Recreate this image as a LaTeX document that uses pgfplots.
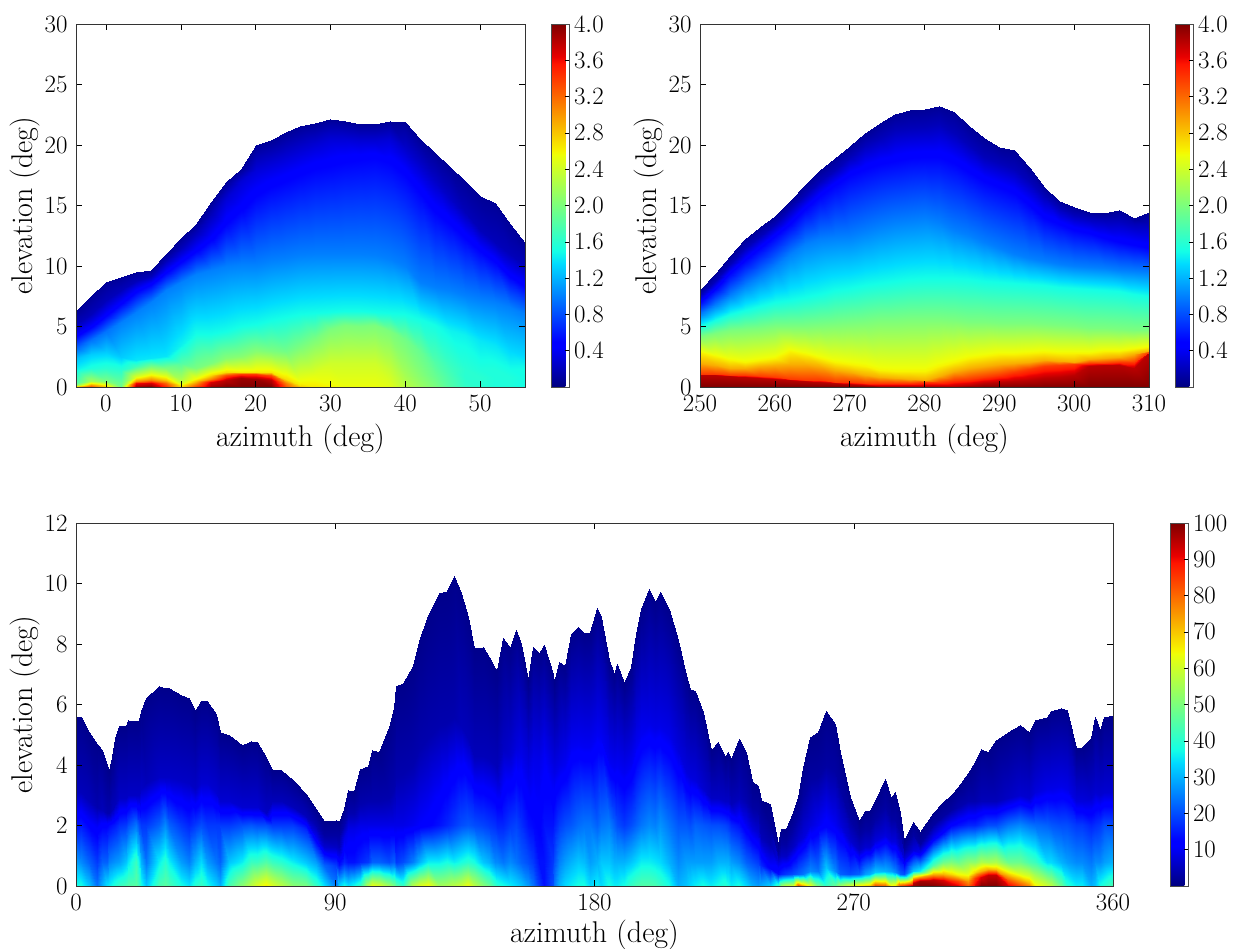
\documentclass[border=0pt]{standalone}
\usepackage{pgfplots}
\pgfplotsset{compat=1.18}
\pgfplotsset{colormap={mpljet}{rgb(0pt)=(0,0,.5); rgb(110pt)=(0,0,1); rgb(125pt)=(0,0,1); rgb(340pt)=(0,.86,1); rgb(375pt)=(.08,1,.9); rgb(640pt)=(.935,1,.03); rgb(650pt)=(.968,.96,0); rgb(890pt)=(1,.08,0); rgb(910pt)=(.91,0,0); rgb(1000pt)=(.5,0,0)},
 mystyle/.style={scale only axis, axis on top, colormap name=mpljet, tick align=inside, major tick length=6pt, tick style={black,line width=.5pt}, axis line style={line width=.7pt,black!80}, xtick pos=both, ytick pos=both,
 tick label style={font=\fontsize{25}{28}\selectfont}, xticklabel style={yshift=-5pt}, yticklabel style={xshift=-5pt}, label style={font=\fontsize{30}{34}\selectfont}, xlabel={azimuth (deg)}, ylabel={elevation (deg)}, xlabel style={yshift=-6pt}, ylabel style={yshift=-2pt}},
 mycb/.style={colorbar, colorbar style={scale only axis, width=18.5pt, height=363pt, at={(#1,1)}, anchor=north west, tick align=inside, major tick length=5pt, yticklabel pos=right, tick label style={font=\fontsize{25}{28}\selectfont}, ytick pos=right, xticklabel style={yshift=0pt}, yticklabel style={xshift=1pt}, ylabel={}, xlabel={}, axis line style={line width=.7pt,black!70}}}}
\begin{document}
\begin{tikzpicture}
\useasboundingbox (0,0) rectangle (1233pt,949pt);
\begin{axis}[mystyle, at={(76pt,562pt)}, anchor=south west, width=449pt, height=363pt, xmin=-4, xmax=56, ymin=0, ymax=30, xtick={0,10,...,50}, ytick={0,5,...,30}, point meta min=0, point meta max=4, mycb=1.058, colorbar style={ytick={.4,.8,...,4.0}, yticklabel style={/pgf/number format/fixed, /pgf/number format/fixed zerofill, /pgf/number format/precision=1}}]
\addplot[surf, shader=interp, mesh/ordering=y varies, mesh/rows=8, point meta=explicit] table[row sep=\\, x index=0, y index=1, meta index=2] {
-4 0 3.0\\ -4 .3 1.8\\ -4 1.5 1.45\\ -4 2.4 1.25\\ -4 3.2 .9\\ -4 4.3 .45\\ -4 5.2 .2\\ -4 6.3 .08\\
-2 0 3.2\\ -2 .5 2.2\\ -2 1.6 1.55\\ -2 2.7 1.3\\ -2 3.9 .95\\ -2 5 .45\\ -2 6 .2\\ -2 7.5 .08\\
0 0 2.6\\ 0 .5 2.0\\ 0 1.6 1.6\\ 0 2.9 1.3\\ 0 4.6 .95\\ 0 6 .45\\ 0 7.2 .2\\ 0 8.7 .08\\
2 0 1.9\\ 2 .3 1.9\\ 2 1.4 1.6\\ 2 2.5 1.3\\ 2 5.4 1\\ 2 7 .45\\ 2 8 .2\\ 2 9.1 .08\\
4 0 3.3\\ 4 .8 2.5\\ 4 1.7 1.7\\ 4 2.2 1.4\\ 4 6.2 1\\ 4 8 .45\\ 4 8.8 .2\\ 4 9.5 .08\\
6 0 3.6\\ 6 1 2.6\\ 6 1.8 1.9\\ 6 2.4 1.4\\ 6 7 1\\ 6 8.6 .45\\ 6 9.2 .2\\ 6 9.7 .08\\
8 0 3.2\\ 8 .9 2.5\\ 8 1.6 2\\ 8 2.6 1.4\\ 8 8 1\\ 8 9.6 .45\\ 8 10.4 .2\\ 8 11 .08\\
10 0 2.6\\ 10 .5 2.3\\ 10 2 1.8\\ 10 3.5 1.45\\ 10 8.7 1\\ 10 10.5 .45\\ 10 11.5 .2\\ 10 12.3 .08\\
12 0 3\\ 12 .7 2.6\\ 12 1.6 2\\ 12 4.4 1.5\\ 12 9.3 1\\ 12 11.4 .45\\ 12 12.7 .2\\ 12 13.5 .08\\
14 0 3.6\\ 14 1 2.7\\ 14 2 2\\ 14 4.4 1.5\\ 14 9.7 1\\ 14 12.4 .45\\ 14 14.3 .2\\ 14 15.3 .08\\
16 0 3.9\\ 16 1.2 2.7\\ 16 2.4 2.05\\ 16 4.6 1.5\\ 16 10 1\\ 16 13.5 .5\\ 16 15.5 .3\\ 16 16.9 .08\\
18 0 4\\ 18 1.25 2.65\\ 18 2.6 2.05\\ 18 5 1.5\\ 18 10.2 1\\ 18 15 .45\\ 18 17 .3\\ 18 18 .08\\
20 0 4\\ 20 1.25 2.65\\ 20 3 2.05\\ 20 5.2 1.5\\ 20 10.2 1\\ 20 15.8 .5\\ 20 18 .3\\ 20 20 .08\\
22 0 3.9\\ 22 1.2 2.65\\ 22 3 2\\ 22 5.5 1.5\\ 22 10.5 1\\ 22 16.5 .5\\ 22 18.5 .3\\ 22 20.4 .08\\
24 0 3.2\\ 24 .7 2.7\\ 24 3 1.95\\ 24 5.8 1.5\\ 24 10.7 1\\ 24 17 .5\\ 24 19 .3\\ 24 21.1 .08\\
26 0 2.8\\ 26 .3 2.6\\ 26 3.3 2\\ 26 6 1.5\\ 26 10.9 1\\ 26 17.5 .5\\ 26 19.5 .3\\ 26 21.6 .08\\
28 0 2.65\\ 28 1 2.5\\ 28 4 2\\ 28 6.1 1.5\\ 28 11 1\\ 28 18 .5\\ 28 20 .3\\ 28 21.8 .08\\
30 0 2.6\\ 30 2 2.4\\ 30 4.8 2\\ 30 6.2 1.5\\ 30 11 1\\ 30 18.3 .5\\ 30 20.5 .3\\ 30 22.15 .08\\
32 0 2.55\\ 32 2 2.4\\ 32 5.1 2\\ 32 6.3 1.5\\ 32 11 1\\ 32 18.6 .5\\ 32 20.5 .3\\ 32 22 .08\\
34 0 2.55\\ 34 2 2.4\\ 34 5 2\\ 34 6.3 1.5\\ 34 11 1\\ 34 18.8 .5\\ 34 20.3 .3\\ 34 21.7 .08\\
36 0 2.55\\ 36 2 2.4\\ 36 5.1 2\\ 36 6.2 1.5\\ 36 10.9 1\\ 36 18.9 .5\\ 36 20.3 .3\\ 36 21.75 .08\\
38 0 2.5\\ 38 1.5 2.35\\ 38 4.6 2\\ 38 6.1 1.5\\ 38 10.6 1\\ 38 18.5 .5\\ 38 20.5 .3\\ 38 22 .08\\
40 0 2.3\\ 40 1 2.2\\ 40 4 1.95\\ 40 6 1.5\\ 40 10 1\\ 40 17.5 .5\\ 40 19.8 .25\\ 40 21.9 .08\\
42 0 2.15\\ 42 1 2.05\\ 42 3 1.9\\ 42 5.6 1.5\\ 42 8.7 1\\ 42 16 .5\\ 42 18.5 .25\\ 42 20.5 .08\\
44 0 2\\ 44 1 1.9\\ 44 2 1.8\\ 44 5.1 1.5\\ 44 8.3 1\\ 44 14.5 .5\\ 44 17 .25\\ 44 19.3 .08\\
46 0 1.8\\ 46 .8 1.75\\ 46 1.5 1.7\\ 46 4.7 1.45\\ 46 8 1\\ 46 13.5 .5\\ 46 15.5 .25\\ 46 18.2 .08\\
48 0 1.65\\ 48 .8 1.6\\ 48 1.5 1.6\\ 48 4.3 1.45\\ 48 7.6 1\\ 48 12.3 .5\\ 48 14.5 .2\\ 48 17 .08\\
50 0 1.6\\ 50 .8 1.6\\ 50 1.5 1.55\\ 50 3.9 1.4\\ 50 7.3 1\\ 50 11.2 .5\\ 50 13 .2\\ 50 15.8 .08\\
52 0 1.55\\ 52 .8 1.55\\ 52 1.5 1.55\\ 52 3.5 1.4\\ 52 7 1\\ 52 10.3 .5\\ 52 12 .2\\ 52 15.2 .08\\
54 0 1.55\\ 54 .8 1.55\\ 54 1.5 1.5\\ 54 3 1.35\\ 54 6.6 1\\ 54 9.3 .45\\ 54 11 .2\\ 54 13.5 .08\\
56 0 1.5\\ 56 .8 1.5\\ 56 1.5 1.5\\ 56 2.6 1.35\\ 56 6 1\\ 56 8.5 .45\\ 56 10 .2\\ 56 11.9 .08\\
};
\addplot[surf, shader=interp, mesh/ordering=y varies, mesh/rows=4, point meta=explicit] table[row sep=\\, x index=0, y index=1, meta index=2] {
-4 0 3\\ -4 .1 2.6\\ -4 .2 2.1\\ -4 .3 1.8\\
-2 0 3.4\\ -2 .2 3\\ -2 .35 2.6\\ -2 .5 2.2\\
0 0 2.8\\ 0 .2 2.6\\ 0 .35 2.3\\ 0 .5 2\\
2 0 1.9\\ 2 .1 1.9\\ 2 .2 1.9\\ 2 .3 1.9\\
4 0 3.9\\ 4 .3 3.6\\ 4 .5 3\\ 4 .8 2.5\\
6 0 4\\ 6 .3 3.7\\ 6 .6 3.1\\ 6 1 2.6\\
8 0 3.5\\ 8 .3 3.2\\ 8 .6 2.8\\ 8 .9 2.5\\
10 0 2.7\\ 10 .15 2.6\\ 10 .3 2.4\\ 10 .5 2.3\\
12 0 3.4\\ 12 .25 3.1\\ 12 .5 2.8\\ 12 .7 2.6\\
14 0 3.9\\ 14 .4 3.7\\ 14 .7 3.1\\ 14 1 2.7\\
16 0 4\\ 16 .6 3.8\\ 16 .95 3.3\\ 16 1.2 2.7\\
18 0 4\\ 18 .75 3.9\\ 18 1.05 3.4\\ 18 1.25 2.65\\
20 0 4\\ 20 .7 3.9\\ 20 1.05 3.4\\ 20 1.25 2.65\\
22 0 4\\ 22 .6 3.8\\ 22 .95 3.3\\ 22 1.2 2.65\\
24 0 3.3\\ 24 .3 3.1\\ 24 .5 2.9\\ 24 .7 2.7\\
26 0 2.8\\ 26 .1 2.75\\ 26 .2 2.65\\ 26 .3 2.6\\
};
\end{axis}
\begin{axis}[mystyle, at={(700pt,562pt)}, anchor=south west, width=449pt, height=363pt, xmin=250, xmax=310, ymin=0, ymax=30, xtick={250,260,...,310}, ytick={0,5,...,30}, point meta min=0, point meta max=4, mycb=1.058, colorbar style={ytick={.4,.8,...,4.0}, yticklabel style={/pgf/number format/fixed, /pgf/number format/fixed zerofill, /pgf/number format/precision=1}}]
\addplot[surf, shader=interp, mesh/ordering=y varies, mesh/rows=11, point meta=explicit] table[row sep=\\, x index=0, y index=1, meta index=2] {
250 0 4\\ 250 1 3.8\\ 250 1.1 3.4\\ 250 2 2.9\\ 250 2.9 2.6\\ 250 4.2 2\\ 250 5 1.5\\ 250 6 1\\ 250 7 .5\\ 250 7.6 .2\\ 250 8 .08\\
252 0 4\\ 252 .95 3.8\\ 252 1.05 3.4\\ 252 1.8 2.9\\ 252 2.6 2.6\\ 252 4.5 2\\ 252 5.5 1.5\\ 252 6.8 1\\ 252 8.1 .5\\ 252 8.8 .2\\ 252 9.3 .08\\
254 0 4\\ 254 .9 3.8\\ 254 1 3.4\\ 254 1.55 2.9\\ 254 2.2 2.6\\ 254 4.7 2\\ 254 6 1.5\\ 254 7.6 1\\ 254 9.4 .5\\ 254 10.2 .2\\ 254 10.8 .08\\
256 0 4\\ 256 .85 3.8\\ 256 .95 3.4\\ 256 1.55 2.9\\ 256 2.1 2.6\\ 256 4.8 2\\ 256 6.4 1.5\\ 256 8.4 1\\ 256 10.5 .5\\ 256 11.5 .2\\ 256 12.2 .08\\
258 0 4\\ 258 .75 3.8\\ 258 .9 3.4\\ 258 1.7 2.9\\ 258 2.2 2.6\\ 258 4.9 2\\ 258 6.7 1.5\\ 258 9.2 1\\ 258 11.5 .5\\ 258 12.5 .2\\ 258 13.2 .08\\
260 0 4\\ 260 .7 3.8\\ 260 .8 3.4\\ 260 1.8 2.9\\ 260 2.4 2.6\\ 260 5 2\\ 260 7 1.5\\ 260 10 1\\ 260 12.5 .5\\ 260 13.5 .2\\ 260 14.1 .08\\
262 0 4\\ 262 .6 3.8\\ 262 .7 3.4\\ 262 1.9 2.9\\ 262 3 2.6\\ 262 5 2\\ 262 7.2 1.5\\ 262 11 1\\ 262 13.5 .5\\ 262 14.7 .2\\ 262 15.4 .08\\
264 0 4\\ 264 .5 3.8\\ 264 .6 3.4\\ 264 1.9 2.9\\ 264 2.7 2.6\\ 264 5 2\\ 264 7.4 1.5\\ 264 11.8 1\\ 264 14.7 .5\\ 264 15.9 .2\\ 264 16.7 .08\\
266 0 4\\ 266 .4 3.8\\ 266 .55 3.4\\ 266 1.7 2.9\\ 266 2.4 2.6\\ 266 5.1 2\\ 266 7.7 1.5\\ 266 12.2 1\\ 266 15.8 .5\\ 266 17 .2\\ 266 17.9 .08\\
268 0 4\\ 268 .3 3.8\\ 268 .45 3.4\\ 268 1.4 2.9\\ 268 2.1 2.6\\ 268 5.2 2\\ 268 8 1.5\\ 268 12.4 1\\ 268 16.7 .5\\ 268 17.9 .2\\ 268 18.9 .08\\
270 0 4\\ 270 .25 3.8\\ 270 .4 3.4\\ 270 1.2 2.9\\ 270 1.9 2.6\\ 270 5.3 2\\ 270 8.2 1.5\\ 270 12.5 1\\ 270 17.5 .5\\ 270 19 .2\\ 270 19.9 .08\\
272 0 4\\ 272 .2 3.8\\ 272 .35 3.4\\ 272 1 2.9\\ 272 1.7 2.6\\ 272 5.4 2\\ 272 8.4 1.5\\ 272 12.9 1\\ 272 18 .5\\ 272 20 .2\\ 272 21 .08\\
274 0 4\\ 274 .12 3.8\\ 274 .35 3.4\\ 274 .85 2.9\\ 274 1.4 2.6\\ 274 5.5 2\\ 274 8.6 1.5\\ 274 13.3 1\\ 274 18.4 .5\\ 274 20.6 .2\\ 274 21.8 .08\\
276 0 4\\ 276 .1 3.8\\ 276 .35 3.4\\ 276 .75 2.9\\ 276 1.3 2.6\\ 276 5.5 2\\ 276 8.8 1.5\\ 276 13.6 1\\ 276 18.7 .5\\ 276 21.2 .2\\ 276 22.6 .08\\
278 0 4\\ 278 .08 3.8\\ 278 .35 3.4\\ 278 .65 2.9\\ 278 1.3 2.6\\ 278 5.6 2\\ 278 8.9 1.5\\ 278 13.8 1\\ 278 18.9 .5\\ 278 21.4 .2\\ 278 22.9 .08\\
280 0 4\\ 280 .08 3.8\\ 280 .4 3.4\\ 280 .6 2.9\\ 280 1.3 2.6\\ 280 5.6 2\\ 280 9 1.5\\ 280 14 1\\ 280 19 .5\\ 280 21.5 .2\\ 280 23 .08\\
282 0 4\\ 282 .08 3.8\\ 282 .45 3.4\\ 282 .9 2.9\\ 282 1.7 2.6\\ 282 5.6 2\\ 282 9 1.5\\ 282 13.6 1\\ 282 19 .5\\ 282 21.7 .2\\ 282 23.25 .08\\
284 0 4\\ 284 .08 3.8\\ 284 .55 3.4\\ 284 1.3 2.9\\ 284 2.1 2.6\\ 284 5.5 2\\ 284 9 1.5\\ 284 13 1\\ 284 18.5 .5\\ 284 21 .2\\ 284 22.7 .08\\
286 0 4\\ 286 .15 3.8\\ 286 .7 3.4\\ 286 1.6 2.9\\ 286 2.4 2.6\\ 286 5.4 2\\ 286 8.9 1.5\\ 286 12.6 1\\ 286 17.8 .5\\ 286 20 .2\\ 286 21.6 .08\\
288 0 4\\ 288 .3 3.8\\ 288 .85 3.4\\ 288 1.75 2.9\\ 288 2.55 2.6\\ 288 5.4 2\\ 288 8.8 1.5\\ 288 12 1\\ 288 17 .5\\ 288 19 .2\\ 288 20.6 .08\\
290 0 4\\ 290 .4 3.8\\ 290 1 3.4\\ 290 1.9 2.9\\ 290 2.7 2.6\\ 290 5.3 2\\ 290 8.7 1.5\\ 290 11.5 1\\ 290 16.5 .5\\ 290 18.5 .2\\ 290 19.8 .08\\
292 0 4\\ 292 .5 3.8\\ 292 1.25 3.4\\ 292 2 2.9\\ 292 2.75 2.6\\ 292 5.3 2\\ 292 8.6 1.5\\ 292 11 1\\ 292 16 .5\\ 292 18 .2\\ 292 19.6 .08\\
294 0 4\\ 294 .6 3.8\\ 294 1.5 3.4\\ 294 2.1 2.9\\ 294 2.85 2.6\\ 294 5.3 2\\ 294 8.5 1.5\\ 294 10.7 1\\ 294 15 .5\\ 294 17 .2\\ 294 18.2 .08\\
296 0 4\\ 296 .75 3.8\\ 296 1.75 3.4\\ 296 2.2 2.9\\ 296 2.9 2.6\\ 296 5.2 2\\ 296 8.4 1.5\\ 296 10.4 1\\ 296 14 .5\\ 296 15.8 .2\\ 296 16.5 .08\\
298 0 4\\ 298 .85 3.8\\ 298 1.85 3.4\\ 298 2.15 2.9\\ 298 2.85 2.6\\ 298 5.1 2\\ 298 8.3 1.5\\ 298 10.2 1\\ 298 13.5 .5\\ 298 14.8 .2\\ 298 15.4 .08\\
300 0 4\\ 300 1 3.8\\ 300 1.9 3.4\\ 300 2.1 2.9\\ 300 2.8 2.6\\ 300 5 2\\ 300 8.2 1.5\\ 300 10 1\\ 300 13 .5\\ 300 14.2 .2\\ 300 14.9 .08\\
302 0 4\\ 302 1.7 3.8\\ 302 1.95 3.4\\ 302 2.3 2.9\\ 302 2.85 2.6\\ 302 4.9 2\\ 302 8.1 1.5\\ 302 9.9 1\\ 302 12.7 .5\\ 302 14 .2\\ 302 14.5 .08\\
304 0 4\\ 304 1.8 3.8\\ 304 2 3.4\\ 304 2.4 2.9\\ 304 2.95 2.6\\ 304 4.9 2\\ 304 8 1.5\\ 304 9.8 1\\ 304 12.3 .5\\ 304 13.8 .2\\ 304 14.35 .08\\
306 0 4\\ 306 1.8 3.8\\ 306 2.05 3.4\\ 306 2.5 2.9\\ 306 3 2.6\\ 306 4.8 2\\ 306 7.9 1.5\\ 306 9.7 1\\ 306 12 .5\\ 306 13.8 .2\\ 306 14.65 .08\\
308 0 4\\ 308 1.6 3.8\\ 308 2.1 3.4\\ 308 2.7 2.9\\ 308 3.1 2.6\\ 308 4.75 2\\ 308 7.7 1.5\\ 308 9.6 1\\ 308 11.7 .5\\ 308 13.5 .2\\ 308 14 .08\\
310 0 4\\ 310 2.8 3.8\\ 310 2.9 3.4\\ 310 3 2.9\\ 310 3.3 2.6\\ 310 4.7 2\\ 310 7.5 1.5\\ 310 9.5 1\\ 310 11.5 .5\\ 310 13.5 .2\\ 310 14.5 .08\\
};
\end{axis}
\begin{axis}[mystyle, at={(76pt,63pt)}, anchor=south west, width=1037pt, height=363pt, xmin=0, xmax=360, ymin=0, ymax=12, xtick={0,90,...,360}, ytick={0,2,...,12}, point meta min=0, point meta max=100, xlabel style={yshift=3pt}, mycb=1.0550, colorbar style={ytick={10,20,...,100}}]
\addplot[surf, shader=interp, mesh/ordering=y varies, mesh/rows=5, point meta=explicit] table[row sep=\\, x index=0, y index=1, meta index=2] {
0 0 38\\ 0 .8 28\\ 0 2 14\\ 0 3.1 5\\ 0 5.6 1\\
1.6 0 38\\ 1.6 .8 26\\ 1.6 2 15\\ 1.6 3.1 5\\ 1.6 5.6 1\\
4.5 0 32\\ 4.5 .8 22\\ 4.5 2 12\\ 4.5 2.8 5\\ 4.5 5.1 1\\
7.4 0 24\\ 7.4 .8 18\\ 7.4 2 10\\ 7.4 2.6 4\\ 7.4 4.7 1\\
9.1 0 30\\ 9.1 .8 22\\ 9.1 2 12\\ 9.1 2.5 5\\ 9.1 4.5 1\\
10.7 0 35\\ 10.7 .8 22\\ 10.7 2 12\\ 10.7 2.4 4\\ 10.7 4 1\\
11.5 0 36\\ 11.5 .8 25\\ 11.5 2 13\\ 11.5 2.4 4\\ 11.5 3.8 1\\
12.4 0 38\\ 12.4 .8 26\\ 12.4 2 14\\ 12.4 2.5 5\\ 12.4 4.25 1\\
13.6 0 40\\ 13.6 .8 27\\ 13.6 2 15\\ 13.6 2.7 5\\ 13.6 4.9 1\\
14.9 0 42\\ 14.9 .8 28\\ 14.9 2 17\\ 14.9 2.9 6\\ 14.9 5.3 1\\
17.3 0 44\\ 17.3 .8 32\\ 17.3 2 18\\ 17.3 2.9 6\\ 17.3 5.3 1\\
18.2 0 45\\ 18.2 .8 35\\ 18.2 2 20\\ 18.2 3 6\\ 18.2 5.5 1\\
20.7 0 46\\ 20.7 .8 42\\ 20.7 2 24\\ 20.7 3 6\\ 20.7 5.47 1\\
21.7 0 42\\ 21.7 .8 36\\ 21.7 2 20\\ 21.7 3 6\\ 21.7 5.5 1\\
22.5 0 38\\ 22.5 .8 30\\ 22.5 2 18\\ 22.5 3.2 6\\ 22.5 5.8 1\\
24.4 0 32\\ 24.4 .8 24\\ 24.4 2 18\\ 24.4 3.4 5\\ 24.4 6.2 1\\
28.8 0 44\\ 28.8 .8 36\\ 28.8 2 22\\ 28.8 3.6 6\\ 28.8 6.6 1\\
31 0 46\\ 31 .8 40\\ 31 2 26\\ 31 3.6 6\\ 31 6.56 1\\
32.3 0 44\\ 32.3 .8 36\\ 32.3 2 22\\ 32.3 3.6 6\\ 32.3 6.55 1\\
36.4 0 38\\ 36.4 .8 28\\ 36.4 2 18\\ 36.4 3.5 6\\ 36.4 6.3 1\\
39.3 0 35\\ 39.3 .8 25\\ 39.3 2 16\\ 39.3 3.4 6\\ 39.3 6.2 1\\
41.3 0 40\\ 41.3 .8 30\\ 41.3 2 18\\ 41.3 3.2 6\\ 41.3 5.8 1\\
43.3 0 42\\ 43.3 .8 34\\ 43.3 2 20\\ 43.3 3.4 7\\ 43.3 6.1 1\\
45.6 0 38\\ 45.6 .8 28\\ 45.6 2 18\\ 45.6 3.4 7\\ 45.6 6.1 1\\
48.5 0 33\\ 48.5 .8 24\\ 48.5 2 18\\ 48.5 3.1 7\\ 48.5 5.7 1\\
49.9 0 30\\ 49.9 .8 22\\ 49.9 2 18\\ 49.9 2.8 7\\ 49.9 5.1 1\\
53.2 0 44\\ 53.2 .8 32\\ 53.2 2 18\\ 53.2 2.8 7\\ 53.2 5 1\\
57.8 0 52\\ 57.8 .8 36\\ 57.8 2 20\\ 57.8 2.6 7\\ 57.8 4.65 1\\
60.7 0 58\\ 60.7 .8 42\\ 60.7 2 21\\ 60.7 2.6 7\\ 60.7 4.8 1\\
63 0 62\\ 63 .8 42\\ 63 2 20\\ 63 2.6 7\\ 63 4.75 1\\
65.9 0 66\\ 65.9 .8 45\\ 65.9 2 20\\ 65.9 2.4 6\\ 65.9 4.25 1\\
67.9 0 62\\ 67.9 .8 42\\ 67.9 2 18\\ 67.9 2.8 5\\ 67.9 3.83 1\\
71.1 0 58\\ 71.1 .8 40\\ 71.1 2 18\\ 71.1 2.8 5\\ 71.1 3.83 1\\
75.2 0 52\\ 75.2 .8 36\\ 75.2 2 18\\ 75.2 2.6 5\\ 75.2 3.5 1\\
79.8 0 50\\ 79.8 .8 32\\ 79.8 1.9 16\\ 79.8 2.3 5\\ 79.8 3.05 1\\
83.3 0 42\\ 83.3 .8 28\\ 83.3 1.6 10\\ 83.3 2 4\\ 83.3 2.55 1\\
86.2 0 35\\ 86.2 .7 22\\ 86.2 1.3 7\\ 86.2 1.7 3\\ 86.2 2.15 1\\
90.2 0 25\\ 90.2 .7 18\\ 90.2 1.3 6\\ 90.2 1.7 3\\ 90.2 2.18 1\\
91.4 0 34\\ 91.4 .7 14\\ 91.4 1.3 5\\ 91.4 1.7 3\\ 91.4 2.1 1\\
93.1 0 38\\ 93.1 .8 16\\ 93.1 1.6 9\\ 93.1 2 4\\ 93.1 2.55 1\\
94.3 0 35\\ 94.3 .8 14\\ 94.3 1.9 9\\ 94.3 2.4 4\\ 94.3 3.17 1\\
96.6 0 38\\ 96.6 .8 14\\ 96.6 1.9 9\\ 96.6 2.4 4\\ 96.6 3.13 1\\
98.6 0 42\\ 98.6 .8 16\\ 98.6 2 9\\ 98.6 2.7 4\\ 98.6 3.87 1\\
101.2 0 58\\ 101.2 .8 18\\ 101.2 2 9\\ 101.2 2.8 4\\ 101.2 3.98 1\\
102.6 0 64\\ 102.6 .8 22\\ 102.6 2 9\\ 102.6 2.8 4\\ 102.6 4.48 1\\
105.1 0 62\\ 105.1 .8 22\\ 105.1 2 9\\ 105.1 2.8 4\\ 105.1 4.42 1\\
108.8 0 55\\ 108.8 .8 20\\ 108.8 2 9\\ 108.8 2.9 4\\ 108.8 5.25 1\\
110.5 0 50\\ 110.5 .8 22\\ 110.5 2 9\\ 110.5 3.2 4\\ 110.5 5.9 1\\
111.1 0 46\\ 111.1 .8 18\\ 111.1 2 9\\ 111.1 3.6 4\\ 111.1 6.6 1\\
113.4 0 42\\ 113.4 .8 20\\ 113.4 2 9\\ 113.4 3.7 4\\ 113.4 6.7 1\\
117.1 0 58\\ 117.1 .8 25\\ 117.1 2 10\\ 117.1 4 4\\ 117.1 7.26 1\\
119.2 0 62\\ 119.2 .8 30\\ 119.2 2 11\\ 119.2 4.5 4\\ 119.2 8.1 1\\
122.1 0 65\\ 122.1 .8 36\\ 122.1 2 12\\ 122.1 4.9 4\\ 122.1 8.95 1\\
126.1 0 55\\ 126.1 .8 36\\ 126.1 2 14\\ 126.1 5.3 4\\ 126.1 9.7 1\\
128.7 0 56\\ 128.7 .8 38\\ 128.7 2 16\\ 128.7 5.4 4\\ 128.7 9.76 1\\
131.2 0 58\\ 131.2 .8 36\\ 131.2 2 18\\ 131.2 5.6 4\\ 131.2 10.24 1\\
133.7 0 60\\ 133.7 .8 38\\ 133.7 2 20\\ 133.7 5.3 5\\ 133.7 9.67 1\\
136 0 64\\ 136 .8 40\\ 136 2 21\\ 136 4.9 5\\ 136 8.9 1\\
138.3 0 58\\ 138.3 .8 38\\ 138.3 2 20\\ 138.3 4.3 5\\ 138.3 7.88 1\\
141.2 0 52\\ 141.2 .8 32\\ 141.2 2 19\\ 141.2 4.3 5\\ 141.2 7.9 1\\
143.2 0 48\\ 143.2 .8 30\\ 143.2 2 18\\ 143.2 4.2 5\\ 143.2 7.57 1\\
145.3 0 42\\ 145.3 .8 26\\ 145.3 2 17\\ 145.3 4 5\\ 145.3 7.22 1\\
146.1 0 40\\ 146.1 .8 26\\ 146.1 2 16\\ 146.1 3.9 5\\ 146.1 7.15 1\\
148.2 0 38\\ 148.2 .8 24\\ 148.2 2 16\\ 148.2 4.5 6\\ 148.2 8.2 1\\
150.7 0 36\\ 150.7 .8 26\\ 150.7 2 18\\ 150.7 4.3 7\\ 150.7 7.88 1\\
152.8 0 34\\ 152.8 .8 24\\ 152.8 2 19\\ 152.8 4.6 8\\ 152.8 8.45 1\\
154.5 0 32\\ 154.5 .8 22\\ 154.5 2 17\\ 154.5 4.4 9\\ 154.5 8 1\\
156.8 0 28\\ 156.8 .8 20\\ 156.8 2 14\\ 156.8 3.7 9\\ 156.8 6.8 1\\
158.8 0 24\\ 158.8 .8 18\\ 158.8 2 13\\ 158.8 4.3 9\\ 158.8 7.9 1\\
160.9 0 18\\ 160.9 .8 14\\ 160.9 2 12\\ 160.9 4.2 9\\ 160.9 7.7 1\\
162.4 0 14\\ 162.4 .8 14\\ 162.4 2 14\\ 162.4 4.4 10\\ 162.4 7.96 1\\
165.5 0 20\\ 165.5 .8 18\\ 165.5 2 14\\ 165.5 3.8 9\\ 165.5 7 1\\
166.1 0 24\\ 166.1 .8 20\\ 166.1 2 15\\ 166.1 3.7 9\\ 166.1 6.7 1\\
167.8 0 30\\ 167.8 .8 25\\ 167.8 2 18\\ 167.8 4 9\\ 167.8 7.4 1\\
169.6 0 34\\ 169.6 .8 28\\ 169.6 2 20\\ 169.6 4 10\\ 169.6 7.26 1\\
171.9 0 36\\ 171.9 .8 30\\ 171.9 2 21\\ 171.9 4.6 10\\ 171.9 8.34 1\\
174.2 0 38\\ 174.2 .8 32\\ 174.2 2 23\\ 174.2 4.7 10\\ 174.2 8.56 1\\
176.5 0 38\\ 176.5 .8 31\\ 176.5 2 24\\ 176.5 4.6 10\\ 176.5 8.38 1\\
178.3 0 34\\ 178.3 .8 28\\ 178.3 2 24\\ 178.3 4.6 10\\ 178.3 8.4 1\\
180.8 0 36\\ 180.8 .8 30\\ 180.8 2 22\\ 180.8 5 10\\ 180.8 9.2 1\\
182.3 0 34\\ 182.3 .8 32\\ 182.3 2 24\\ 182.3 4.9 10\\ 182.3 8.9 1\\
185.2 0 38\\ 185.2 .8 32\\ 185.2 2 25\\ 185.2 4.1 10\\ 185.2 7.46 1\\
186.6 0 36\\ 186.6 .8 30\\ 186.6 2 22\\ 186.6 3.9 10\\ 186.6 7 1\\
187.8 0 36\\ 187.8 .8 30\\ 187.8 2 20\\ 187.8 4 10\\ 187.8 7.35 1\\
190.1 0 38\\ 190.1 .8 30\\ 190.1 2 18\\ 190.1 3.7 10\\ 190.1 6.71 1\\
192.8 0 42\\ 192.8 .8 32\\ 192.8 2 20\\ 192.8 4 10\\ 192.8 7.24 1\\
194.5 0 44\\ 194.5 .8 34\\ 194.5 2 22\\ 194.5 4.6 10\\ 194.5 8.34 1\\
196.2 0 45\\ 196.2 .8 36\\ 196.2 2 24\\ 196.2 5 10\\ 196.2 9.17 1\\
198.9 0 45\\ 198.9 .8 36\\ 198.9 2 26\\ 198.9 5.4 9\\ 198.9 9.83 1\\
200.9 0 44\\ 200.9 .8 35\\ 200.9 2 25\\ 200.9 5.2 9\\ 200.9 9.39 1\\
202.6 0 42\\ 202.6 .8 34\\ 202.6 2 27\\ 202.6 5.3 9\\ 202.6 9.72 1\\
205.7 0 38\\ 205.7 .8 30\\ 205.7 2 24\\ 205.7 5 9\\ 205.7 9.17 1\\
209 0 30\\ 209 .8 26\\ 209 2 21\\ 209 4.5 8\\ 209 8.12 1\\
211.6 0 32\\ 211.6 .8 28\\ 211.6 2 21\\ 211.6 3.8 8\\ 211.6 6.96 1\\
213 0 34\\ 213 .8 28\\ 213 2 20\\ 213 3.6 8\\ 213 6.52 1\\
214.8 0 36\\ 214.8 .8 28\\ 214.8 2 22\\ 214.8 3.5 8\\ 214.8 6.44 1\\
217.7 0 38\\ 217.7 .8 28\\ 217.7 2 21\\ 217.7 3.2 7\\ 217.7 5.75 1\\
220.6 0 36\\ 220.6 .8 28\\ 220.6 2 20\\ 220.6 2.9 6\\ 220.6 4.48 1\\
222.9 0 38\\ 222.9 .8 30\\ 222.9 2 20\\ 222.9 2.9 6\\ 222.9 4.75 1\\
225.2 0 40\\ 225.2 .8 30\\ 225.2 2 19\\ 225.2 2.8 6\\ 225.2 4.25 1\\
226.3 0 38\\ 226.3 .8 30\\ 226.3 2 18\\ 226.3 2.8 6\\ 226.3 4.42 1\\
227.5 0 36\\ 227.5 .8 28\\ 227.5 2 16\\ 227.5 2.7 5\\ 227.5 4.2 1\\
230.2 0 38\\ 230.2 .8 26\\ 230.2 2 14\\ 230.2 2.9 5\\ 230.2 4.86 1\\
232.7 0 34\\ 232.7 .8 22\\ 232.7 2 10\\ 232.7 2.8 4\\ 232.7 4.42 1\\
234.7 0 30\\ 234.7 .8 20\\ 234.7 1.9 8\\ 234.7 2.6 3\\ 234.7 3.48 1\\
236.8 0 28\\ 236.8 .8 18\\ 236.8 1.8 7\\ 236.8 2.5 3\\ 236.8 3.31 1\\
237.9 0 30\\ 237.9 .7 16\\ 237.9 1.6 5\\ 237.9 2.2 3\\ 237.9 2.84 1\\
240.8 0 33\\ 240.8 .6 12\\ 240.8 1.4 4\\ 240.8 2 2\\ 240.8 2.71 1\\
243.7 0 42\\ 243.7 .4 14\\ 243.7 .8 8\\ 243.7 1.1 3\\ 243.7 1.4 1\\
244.9 0 55\\ 244.9 .4 16\\ 244.9 1 6\\ 244.9 1.4 3\\ 244.9 1.88 1\\
246.6 0 60\\ 246.6 .4 18\\ 246.6 1 6\\ 246.6 1.4 3\\ 246.6 1.88 1\\
248.9 0 62\\ 248.9 .4 20\\ 248.9 1.3 6\\ 248.9 1.9 3\\ 248.9 2.43 1\\
250.7 0 85\\ 250.7 .4 22\\ 250.7 1.5 7\\ 250.7 2.3 3\\ 250.7 2.93 1\\
252.5 0 75\\ 252.5 .4 24\\ 252.5 1.6 8\\ 252.5 2.9 3\\ 252.5 3.9 1\\
254.7 0 65\\ 254.7 .5 26\\ 254.7 2 8\\ 254.7 3.5 3\\ 254.7 4.92 1\\
257.6 0 50\\ 257.6 .5 24\\ 257.6 2 10\\ 257.6 3.6 3\\ 257.6 5.08 1\\
260.5 0 42\\ 260.5 .6 32\\ 260.5 2 12\\ 260.5 4 3\\ 260.5 5.8 1\\
263.4 0 48\\ 263.4 .5 26\\ 263.4 2 10\\ 263.4 3.8 3\\ 263.4 5.36 1\\
265.1 0 55\\ 265.1 .4 22\\ 265.1 2 8\\ 265.1 3.2 3\\ 265.1 4.42 1\\
268.6 0 62\\ 268.6 .4 20\\ 268.6 1.5 7\\ 268.6 2.2 3\\ 268.6 2.93 1\\
271.7 0 68\\ 271.7 .4 22\\ 271.7 1.2 6\\ 271.7 1.7 3\\ 271.7 2.15 1\\
273.8 0 70\\ 273.8 .4 28\\ 273.8 1.3 7\\ 273.8 1.9 3\\ 273.8 2.49 1\\
275.8 0 72\\ 275.8 .4 30\\ 275.8 1.3 7\\ 275.8 1.9 3\\ 275.8 2.51 1\\
277.3 0 85\\ 277.3 .45 32\\ 277.3 1.5 8\\ 277.3 2.2 3\\ 277.3 2.82 1\\
281 0 82\\ 281 .5 30\\ 281 1.7 8\\ 281 2.6 3\\ 281 3.55 1\\
283.1 0 66\\ 283.1 .5 28\\ 283.1 1.5 8\\ 283.1 2.2 3\\ 283.1 2.92 1\\
284.3 0 68\\ 284.3 .45 26\\ 284.3 1.5 8\\ 284.3 2.2 3\\ 284.3 3.12 1\\
286 0 85\\ 286 .4 22\\ 286 1.3 6\\ 286 1.8 3\\ 286 2.4 1\\
287.5 0 88\\ 287.5 .4 20\\ 287.5 .9 8\\ 287.5 1.2 3\\ 287.5 1.5 1\\
290.6 0 98\\ 290.6 .5 32\\ 290.6 1.2 8\\ 290.6 1.7 3\\ 290.6 2.1 1\\
292.9 0 100\\ 292.9 .5 36\\ 292.9 1.1 10\\ 292.9 1.4 3\\ 292.9 1.8 1\\
297.5 0 98\\ 297.5 .7 44\\ 297.5 1.6 10\\ 297.5 2 3\\ 297.5 2.4 1\\
301 0 96\\ 301 .8 48\\ 301 1.8 12\\ 301 2.3 3\\ 301 2.78 1\\
303.9 0 90\\ 303.9 .8 50\\ 303.9 2 12\\ 303.9 2.5 3\\ 303.9 3 1\\
306.2 0 85\\ 306.2 .8 48\\ 306.2 2 14\\ 306.2 2.6 4\\ 306.2 3.28 1\\
309.7 0 80\\ 309.7 .8 52\\ 309.7 2 16\\ 309.7 2.8 4\\ 309.7 3.72 1\\
312 0 88\\ 312 .8 52\\ 312 2 16\\ 312 2.8 4\\ 312 4.1 1\\
314.3 0 96\\ 314.3 .8 56\\ 314.3 2 18\\ 314.3 2.8 5\\ 314.3 4.52 1\\
316.6 0 98\\ 316.6 .8 55\\ 316.6 2 20\\ 316.6 2.8 5\\ 316.6 4.44 1\\
319.5 0 100\\ 319.5 .8 56\\ 319.5 2 20\\ 319.5 2.8 5\\ 319.5 4.83 1\\
323.6 0 88\\ 323.6 .8 48\\ 323.6 2 24\\ 323.6 2.9 6\\ 323.6 5.1 1\\
327.6 0 75\\ 327.6 .8 48\\ 327.6 2 26\\ 327.6 3 7\\ 327.6 5.33 1\\
330.8 0 72\\ 330.8 .8 44\\ 330.8 2 24\\ 330.8 2.9 7\\ 330.8 5.08 1\\
332.9 0 66\\ 332.9 .8 42\\ 332.9 2 23\\ 332.9 3.1 8\\ 332.9 5.5 1\\
337 0 60\\ 337 .8 34\\ 337 2 22\\ 337 3.2 9\\ 337 5.6 1\\
338.6 0 58\\ 338.6 .8 34\\ 338.6 2 21\\ 338.6 3.2 9\\ 338.6 5.8 1\\
342.1 0 48\\ 342.1 .8 30\\ 342.1 2 20\\ 342.1 3.3 9\\ 342.1 5.88 1\\
344.1 0 40\\ 344.1 .8 28\\ 344.1 2 20\\ 344.1 3.2 9\\ 344.1 5.82 1\\
347.3 0 36\\ 347.3 .8 26\\ 347.3 2 18\\ 347.3 2.8 8\\ 347.3 4.55 1\\
349.1 0 36\\ 349.1 .8 26\\ 349.1 2 18\\ 349.1 2.8 8\\ 349.1 4.6 1\\
352.5 0 30\\ 352.5 .8 24\\ 352.5 2 16\\ 352.5 2.9 7\\ 352.5 4.88 1\\
353.7 0 32\\ 353.7 .8 26\\ 353.7 2 17\\ 353.7 3.1 7\\ 353.7 5.58 1\\
355.4 0 38\\ 355.4 .8 26\\ 355.4 2 18\\ 355.4 3 7\\ 355.4 5.16 1\\
356.8 0 40\\ 356.8 .8 28\\ 356.8 2 20\\ 356.8 3.1 7\\ 356.8 5.58 1\\
360 0 44\\ 360 .8 30\\ 360 2 20\\ 360 3.1 7\\ 360 5.65 1\\
};
\addplot[surf, shader=interp, mesh/ordering=y varies, mesh/rows=4, point meta=explicit] table[row sep=\\, x index=0, y index=1, meta index=2] {
290.6 0 98\\ 290.6 .1 95\\ 290.6 .25 72\\ 290.6 .5 32\\
292.9 0 100\\ 292.9 .15 97\\ 292.9 .3 75\\ 292.9 .5 36\\
297.5 0 100\\ 297.5 .2 95\\ 297.5 .4 72\\ 297.5 .7 44\\
301 0 98\\ 301 .2 92\\ 301 .4 72\\ 301 .8 48\\
303.9 0 95\\ 303.9 .15 88\\ 303.9 .4 68\\ 303.9 .8 50\\
306.2 0 92\\ 306.2 .15 84\\ 306.2 .35 66\\ 306.2 .8 48\\
309.7 0 82\\ 309.7 .15 75\\ 309.7 .35 64\\ 309.7 .8 52\\
312 0 92\\ 312 .25 85\\ 312 .45 68\\ 312 .8 52\\
314.3 0 100\\ 314.3 .3 92\\ 314.3 .5 72\\ 314.3 .8 56\\
316.6 0 100\\ 316.6 .35 94\\ 316.6 .55 72\\ 316.6 .8 55\\
319.5 0 100\\ 319.5 .35 94\\ 319.5 .55 70\\ 319.5 .8 56\\
323.6 0 92\\ 323.6 .2 82\\ 323.6 .45 65\\ 323.6 .8 48\\
327.6 0 84\\ 327.6 .15 75\\ 327.6 .4 62\\ 327.6 .8 48\\
330.8 0 78\\ 330.8 .1 72\\ 330.8 .35 60\\ 330.8 .8 44\\
332.9 0 66\\ 332.9 .1 62\\ 332.9 .35 55\\ 332.9 .8 42\\
};
\end{axis}
\end{tikzpicture}
\end{document}
